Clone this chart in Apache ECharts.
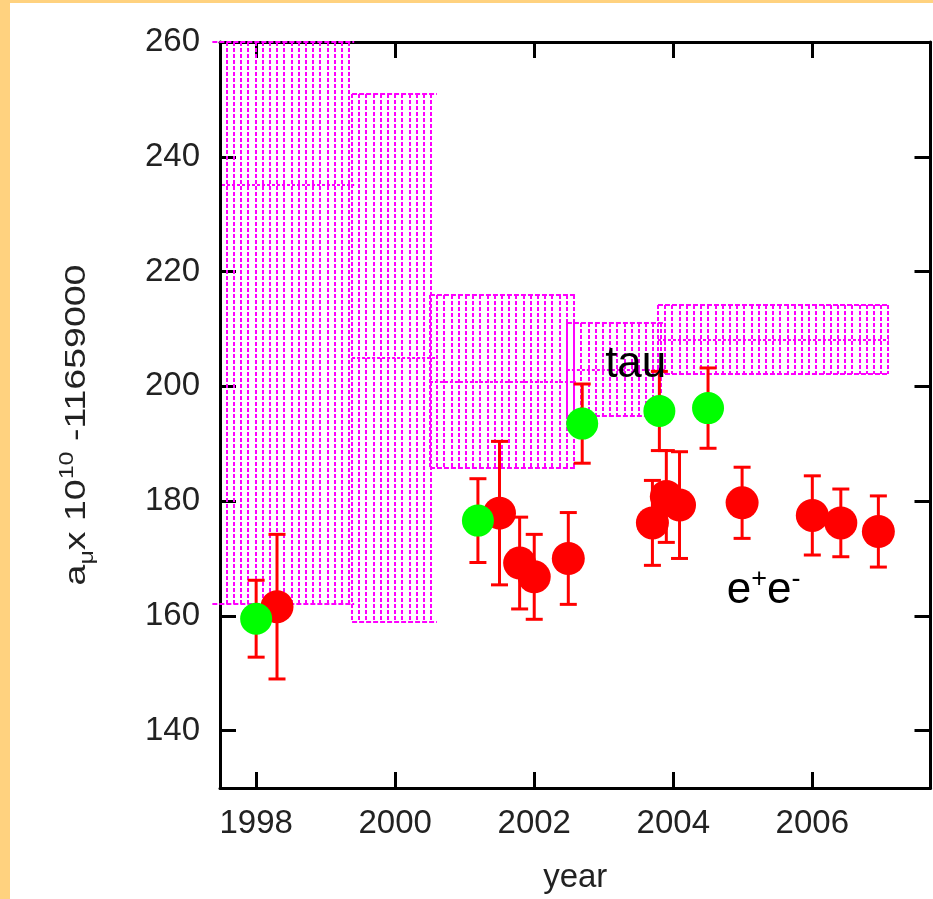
<!DOCTYPE html>
<html><head><meta charset="utf-8">
<script src="https://cdn.jsdelivr.net/npm/echarts@6/dist/echarts.min.js"></script>
<style>html,body{margin:0;padding:0;background:#fff}#c{width:933px;height:899px}</style>
</head><body><div id="c"></div>
<script>
// ---- data ----
const xTicks = [1998, 2000, 2002, 2004, 2006];
const yTicks = [140, 160, 180, 200, 220, 240, 260];

// magenta bands (theory predictions): year span, low, high, central value
const bandStart  = [1997.37, 1999.38, 2000.50, 2002.47, 2003.78];
const bandEnd    = [1999.41, 2000.60, 2002.60, 2003.88, 2007.10];
const bandLow    = [162.0, 159.0, 185.8, 194.8, 202.1];
const bandHigh   = [260.0, 251.0, 215.9, 211.0, 214.2];
const bandCentre = [235.0, 205.0, 200.8, 202.9, 208.1];

// tau-based evaluations (green)
const tauYear  = [1998.00, 2001.19, 2002.69, 2003.80, 2004.50];
const tauValue = [159.5, 176.6, 193.5, 195.7, 196.2];
const tauError = [6.7, 7.3, 6.9, 6.9, 7.0];

// e+e- based evaluations (red)
const eeYear  = [1998.30, 2001.50, 2001.79, 2002.00, 2002.49, 2003.70, 2003.90, 2004.09, 2004.99, 2006.00, 2006.41, 2006.95];
const eeValue = [161.6, 177.9, 169.2, 166.8, 170.0, 176.2, 180.8, 179.3, 179.7, 177.5, 176.2, 174.7];
const eeError = [12.6, 12.5, 8.0, 7.4, 8.0, 7.4, 8.0, 9.3, 6.2, 6.9, 5.9, 6.2];

// annotation anchors (data coordinates)
const noteText = ['tau', 'ee'];
const noteYear = [2003.02, 2004.77];
const noteVal  = [203.8, 164.4];

// ---- build ----
const FONT = '"Liberation Sans", Arial, Helvetica, sans-serif';
const MAG = '#ff00ff';
const RED = '#ff0000';
const GREEN = '#00ff00';

const bandData = bandStart.map((s, i) => [s, bandEnd[i], bandLow[i], bandHigh[i], bandCentre[i]]);
const errData = eeYear.map((y, i) => [y, eeValue[i], eeError[i]])
  .concat(tauYear.map((y, i) => [y, tauValue[i], tauError[i]]));
const noteData = noteText.map((t, i) => [noteYear[i], noteVal[i], i]);

function renderBand(params, api) {
  const x0 = api.value(0), x1 = api.value(1), lo = api.value(2), hi = api.value(3), c = api.value(4);
  const pTL = api.coord([x0, hi]);
  const pBR = api.coord([x1, lo]);
  const pC = api.coord([x0, c]);
  const cs = params.coordSys;
  const edge = {stroke: MAG, lineWidth: 2, lineDash: [5, 2], fill: null};
  const hatch = {stroke: MAG, lineWidth: 2, lineDash: [4, 2], fill: null};
  const kids = [];
  const yT = Math.round(pTL[1]), yB = Math.round(pBR[1]), yC = Math.round(pC[1]);
  kids.push({type: 'line', shape: {x1: pTL[0], y1: yT, x2: pBR[0], y2: yT}, style: edge});
  kids.push({type: 'line', shape: {x1: pTL[0], y1: yB, x2: pBR[0], y2: yB}, style: edge});
  kids.push({type: 'line', shape: {x1: Math.max(pTL[0], cs.x + 2), y1: yC, x2: pBR[0], y2: yC},
             style: {stroke: MAG, lineWidth: 2, lineDash: [3, 2]}});
  for (let x = pTL[0]; x <= pBR[0] + 0.5; x += 7.2) {
    if (x < cs.x + 1) continue;
    const xr = Math.round(x);
    kids.push({type: 'line', shape: {x1: xr, y1: yT, x2: xr, y2: yB}, style: hatch});
  }
  return {type: 'group', children: kids};
}

function renderErr(params, api) {
  const x = api.value(0), v = api.value(1), e = api.value(2);
  const t = api.coord([x, v + e]);
  const b = api.coord([x, v - e]);
  const hw = 8.5;
  const st = {stroke: RED, lineWidth: 3};
  return {type: 'group', children: [
    {type: 'line', shape: {x1: t[0], y1: t[1], x2: b[0], y2: b[1]}, style: st},
    {type: 'line', shape: {x1: t[0] - hw, y1: t[1], x2: t[0] + hw, y2: t[1]}, style: st},
    {type: 'line', shape: {x1: b[0] - hw, y1: b[1], x2: b[0] + hw, y2: b[1]}, style: st}
  ]};
}

function renderNote(params, api) {
  const p = api.coord([api.value(0), api.value(1)]);
  const idx = api.value(2);
  const text = noteText[idx] === 'tau' ? '{b|tau}' : '{b|e}{s|+}{b|e}{s|-}';
  return {
    type: 'text', x: p[0], y: p[1],
    style: {
      text: text, align: 'left', verticalAlign: 'middle', fill: '#000',
      rich: {
        b: {fontFamily: FONT, fontSize: 44, lineHeight: 50, fill: '#000'},
        s: {fontFamily: FONT, fontSize: 27, lineHeight: 27, verticalAlign: 'top', fill: '#000'}
      }
    }
  };
}

const axisLineStyle = {color: '#000', width: 3};
const tickStyle = {color: '#000', width: 3};
const plain = v => String(v);

const option = {
  animation: false,
  backgroundColor: '#fff',
  grid: {left: 220, right: 2.5, top: 42, bottom: 110, show: false},
  xAxis: [
    {type: 'value', min: 1997.48, max: 2007.7, position: 'bottom',
     axisLine: {show: true, onZero: false, lineStyle: axisLineStyle},
     axisTick: {show: true, inside: true, length: 16, lineStyle: tickStyle, customValues: xTicks},
     axisLabel: {show: true, customValues: xTicks, formatter: plain, fontSize: 33, fontFamily: FONT, color: '#222', margin: 19},
     splitLine: {show: false},
     name: 'year', nameLocation: 'middle', nameGap: 73,
     nameTextStyle: {fontSize: 33, fontFamily: FONT, color: '#222'}},
    {type: 'value', min: 1997.48, max: 2007.7, position: 'top',
     axisLine: {show: true, onZero: false, lineStyle: axisLineStyle},
     axisTick: {show: true, inside: true, length: 16, lineStyle: tickStyle, customValues: xTicks},
     axisLabel: {show: false}, splitLine: {show: false}}
  ],
  yAxis: [
    {type: 'value', min: 130, max: 260, position: 'left',
     axisLine: {show: true, onZero: false, lineStyle: axisLineStyle},
     axisTick: {show: true, inside: true, length: 16, lineStyle: tickStyle, customValues: yTicks},
     axisLabel: {show: true, customValues: yTicks, formatter: plain, fontSize: 33, fontFamily: FONT, color: '#222', margin: 20},
     splitLine: {show: false}},
    {type: 'value', min: 130, max: 260, position: 'right',
     axisLine: {show: true, onZero: false, lineStyle: axisLineStyle},
     axisTick: {show: true, inside: true, length: 16, lineStyle: tickStyle, customValues: yTicks},
     axisLabel: {show: false}, splitLine: {show: false}}
  ],
  graphic: [
    {type: 'rect', left: 0, top: 0, shape: {width: 10, height: 899}, style: {fill: '#ffd27f'}, z: 100},
    {type: 'rect', left: 0, top: 0, shape: {width: 933, height: 3}, style: {fill: '#ffd27f'}, z: 100},
    {type: 'text', x: 77, y: 425, rotation: Math.PI / 2, scaleX: 1.25, z: 100,
     style: {
       text: '{n|a}{sub|μ}{n|x 10}{sup|10}{n| -11659000}',
       align: 'center', verticalAlign: 'middle', textAlign: 'center', textVerticalAlign: 'middle',
       fill: '#222',
       rich: {
         n: {fontFamily: FONT, fontSize: 30, lineHeight: 40, fill: '#222'},
         sub: {fontFamily: FONT, fontSize: 20, lineHeight: 22, verticalAlign: 'bottom', fill: '#222'},
         sup: {fontFamily: FONT, fontSize: 20, lineHeight: 20, verticalAlign: 'top', fill: '#222'}
       }
     }}
  ],
  series: [
    {type: 'custom', name: 'bands', renderItem: renderBand, data: bandData,
     encode: {x: [0, 1], y: [2, 3]}, z: 1, silent: true, clip: false},
    {type: 'custom', name: 'errors', renderItem: renderErr, data: errData,
     encode: {x: 0, y: 1}, z: 2, silent: true, clip: false},
    {type: 'scatter', name: 'e+e-', data: eeYear.map((y, i) => [y, eeValue[i]]),
     symbol: 'circle', symbolSize: 33, itemStyle: {color: RED, opacity: 1}, z: 3, silent: true},
    {type: 'scatter', name: 'tau', data: tauYear.map((y, i) => [y, tauValue[i]]),
     symbol: 'circle', symbolSize: 32, itemStyle: {color: GREEN, opacity: 1}, z: 4, silent: true},
    {type: 'custom', name: 'notes', renderItem: renderNote, data: noteData,
     encode: {x: 0, y: 1}, z: 5, silent: true, clip: false}
  ]
};

const chart = echarts.init(document.getElementById('c'));
chart.setOption(option);
</script>
</body></html>
